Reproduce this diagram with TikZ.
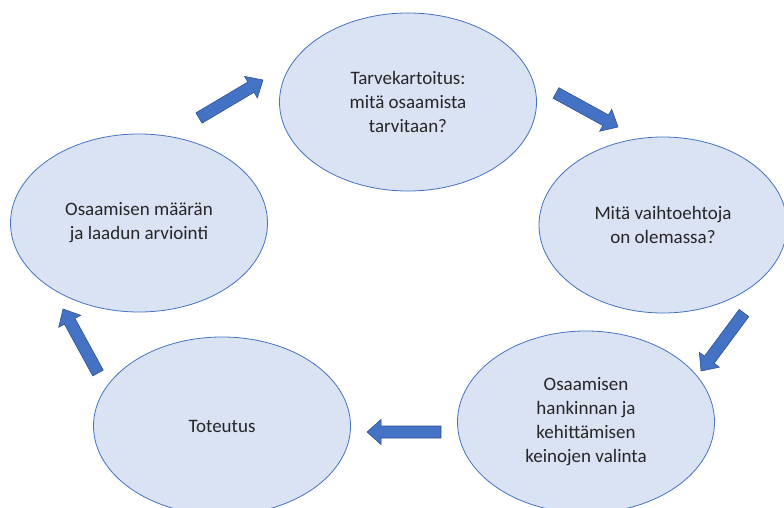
\documentclass[tikz,border=0pt]{standalone}
\usepackage{fontspec}
\setmainfont{Carlito}
\usetikzlibrary{shapes.geometric,calc}
\definecolor{efill}{HTML}{DAE3F3}
\definecolor{eline}{HTML}{4472C4}
\definecolor{afill}{HTML}{4472C4}
\definecolor{aline}{HTML}{2F528F}
\definecolor{txt}{HTML}{262626}
\newcommand\blockarrow[2]{%
  \coordinate (nk) at ($(#2)!14pt!(#1)$);
  \draw[barrow] ($(#1)!6pt!90:(#2)$) -- ($(nk)!6pt!-90:(#1)$) -- ($(nk)!12.5pt!-90:(#1)$) -- (#2) -- ($(nk)!12.5pt!90:(#1)$) -- ($(nk)!6pt!90:(#1)$) -- ($(#1)!6pt!-90:(#2)$) -- cycle;}
\begin{document}
\begin{tikzpicture}[x=1pt,y=-1pt,
  bubble/.style={ellipse, draw=eline, fill=efill, line width=0.8pt, inner sep=0pt,
    minimum width=257pt, minimum height=178pt, align=center, text=txt,
    font=\fontsize{19}{24}\selectfont},
  barrow/.style={fill=afill, draw=aline, line width=0.6pt, line join=miter}]
\useasboundingbox (0,0) rectangle (784,508);
\clip (0,0) rectangle (784,508);
\fill[white] (0,0) rectangle (784,508);
\node[bubble] (n1) at (408,102) {Tarvekartoitus:\\mitä osaamista\\tarvitaan?};
\node[bubble, minimum width=248pt, minimum height=176pt] (n2) at (663,225) {Mitä vaihtoehtoja\\on olemassa?};
\node[bubble, minimum height=182pt] (n3) at (586,422) {Osaamisen\\hankinnan ja\\kehittämisen\\keinojen valinta};
\node[bubble] (n4) at (222,426) {Toteutus};
\node[bubble] (n5) at (139,223) {Osaamisen määrän\\ja laadun arviointi};
\coordinate (t1) at (199,118); \coordinate (h1) at (263,80);
\coordinate (t2) at (556,93);  \coordinate (h2) at (618,127);
\coordinate (t3) at (744,313); \coordinate (h3) at (701,371);
\coordinate (t4) at (441,432); \coordinate (h4) at (367,432);
\coordinate (t5) at (98,373);  \coordinate (h5) at (63,309);
\blockarrow{t1}{h1}
\blockarrow{t2}{h2}
\blockarrow{t3}{h3}
\blockarrow{t4}{h4}
\blockarrow{t5}{h5}
\end{tikzpicture}
\end{document}
